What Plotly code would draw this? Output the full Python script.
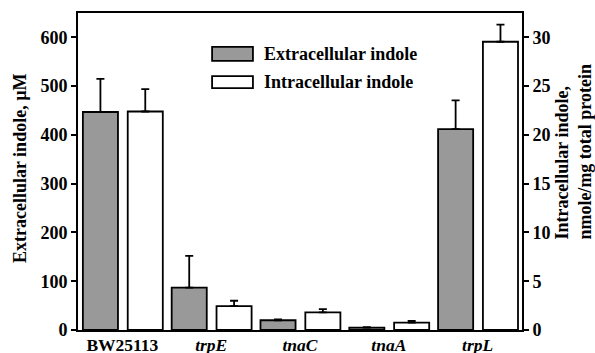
import plotly.graph_objects as go

categories = ["BW25113", "trpE", "tnaC", "tnaA", "trpL"]
tick_labels = ["<b>BW25113</b>", "<b><i>trpE</i></b>", "<b><i>tnaC</i></b>",
               "<b><i>tnaA</i></b>", "<b><i>trpL</i></b>"]
extracellular = [447, 87, 20, 5, 412]
extracellular_err = [68, 65, 1.5, 1, 59]
intracellular = [22.4, 2.45, 1.8, 0.75, 29.55]
intracellular_err = [2.3, 0.55, 0.35, 0.18, 1.75]
left_ticks = [0, 100, 200, 300, 400, 500, 600]
right_ticks = [0, 5, 10, 15, 20, 25, 30]

FONT = "Liberation Serif"
x = list(range(len(categories)))
BAR_W = 0.395

fig = go.Figure()
fig.add_trace(go.Bar(
    x=x, y=extracellular, name="Extracellular indole", xaxis="x", yaxis="y",
    width=BAR_W, offset=-0.445,
    marker=dict(color="#999999", line=dict(color="black", width=1.8)),
    error_y=dict(type="data", symmetric=False, array=extracellular_err,
                 arrayminus=[0] * len(x), color="black", thickness=1.8, width=4),
))
fig.add_trace(go.Bar(
    x=x, y=intracellular, name="Intracellular indole", xaxis="x2", yaxis="y2",
    width=BAR_W, offset=0.06,
    marker=dict(color="white", line=dict(color="black", width=1.8)),
    error_y=dict(type="data", symmetric=False, array=intracellular_err,
                 arrayminus=[0] * len(x), color="black", thickness=1.8, width=4),
))

tickfont = dict(family=FONT, size=18, color="black")
fig.update_layout(
    width=595, height=353,
    margin=dict(l=78, r=73, t=13, b=23),
    plot_bgcolor="white", paper_bgcolor="white",
    barmode="overlay",
    showlegend=False,
    xaxis=dict(range=[-0.5, 4.5], tickvals=x, showticklabels=False, ticks="",
               showgrid=False, zeroline=False, showline=True, linecolor="black",
               linewidth=2, mirror=True, automargin=False),
    xaxis2=dict(range=[-0.5, 4.5], tickvals=x, ticktext=tick_labels, ticks="",
                overlaying="x", anchor="free", position=0, side="bottom",
                showgrid=False, zeroline=False, showline=False,
                tickfont=dict(family=FONT, size=17.5, color="black"),
                ticklabelstandoff=2, automargin=False),
    yaxis=dict(range=[0, 650], tickvals=left_ticks, ticktext=[f"<b>{v}</b>" for v in left_ticks],
               ticks="outside", ticklen=5,
               tickwidth=1.5, tickcolor="black", showgrid=False, zeroline=False,
               showline=True, linecolor="black", linewidth=2, tickfont=tickfont,
               automargin=False),
    yaxis2=dict(range=[0, 32.5], tickvals=right_ticks, ticktext=[f"<b>{v}</b>" for v in right_ticks],
                ticks="outside", ticklen=5, anchor="x",
                tickwidth=1.5, tickcolor="black", showgrid=False, zeroline=False,
                showline=True, linecolor="black", linewidth=2, tickfont=tickfont,
                overlaying="y", side="right", automargin=False),
)

# legend drawn manually
fig.add_shape(type="rect", xref="paper", yref="paper", x0=0.302, x1=0.394, y0=0.849, y1=0.893,
              fillcolor="#999999", line=dict(color="black", width=1.8))
fig.add_shape(type="rect", xref="paper", yref="paper", x0=0.302, x1=0.394, y0=0.763, y1=0.801,
              fillcolor="white", line=dict(color="black", width=1.8))
legfont = dict(family=FONT, size=18, color="black")
fig.add_annotation(xref="paper", yref="paper", x=0.414, y=0.871, text="<b>Extracellular indole</b>",
                   showarrow=False, xanchor="left", yanchor="middle", font=legfont)
fig.add_annotation(xref="paper", yref="paper", x=0.414, y=0.782, text="<b>Intracellular indole</b>",
                   showarrow=False, xanchor="left", yanchor="middle", font=legfont)

titlefont = dict(family=FONT, size=18, color="black")
fig.add_annotation(xref="paper", yref="paper", x=-0.1306, y=0.511,
                   text="<b>Extracellular indole, µM</b>", textangle=-90, showarrow=False,
                   xanchor="center", yanchor="middle", font=titlefont)
fig.add_annotation(xref="paper", yref="paper", x=1.114, y=0.5615,
                   text="<b>Intracellular indole,</b><br><b>nmole/mg total protein</b>", textangle=-90,
                   showarrow=False, xanchor="center", yanchor="middle", align="left",
                   font=titlefont)

fig.write_html("out.html")
